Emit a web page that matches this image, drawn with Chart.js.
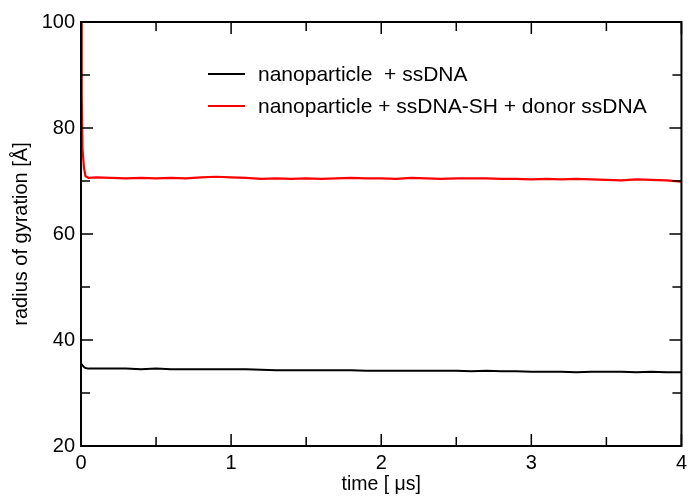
<!DOCTYPE html>
<html>
<head>
<meta charset="utf-8">
<script src="https://cdn.jsdelivr.net/npm/chart.js@4.4.1/dist/chart.umd.min.js"></script>
<style>
  html, body { margin: 0; padding: 0; background: #fff; }
  #wrap { width: 692px; height: 496px; }
</style>
</head>
<body>
<div id="wrap"><canvas id="rg"></canvas></div>
<script>
// time in microseconds
const times = [0, 0.005, 0.01, 0.02, 0.03, 0.05,
  0.1, 0.2, 0.3, 0.4, 0.5, 0.6, 0.7, 0.8, 0.9, 1.0,
  1.1, 1.2, 1.3, 1.4, 1.5, 1.6, 1.7, 1.8, 1.9, 2.0,
  2.1, 2.2, 2.3, 2.4, 2.5, 2.6, 2.7, 2.8, 2.9, 3.0,
  3.1, 3.2, 3.3, 3.4, 3.5, 3.6, 3.7, 3.8, 3.9, 4.0];

// nanoparticle + ssDNA-SH + donor ssDNA
const rgDonor = [100, 86, 76, 72.5, 70.9, 70.6,
  70.7, 70.6, 70.5, 70.6, 70.5, 70.6, 70.5, 70.7, 70.8, 70.7,
  70.6, 70.4, 70.5, 70.4, 70.5, 70.4, 70.5, 70.6, 70.5, 70.5,
  70.4, 70.6, 70.5, 70.4, 70.5, 70.5, 70.5, 70.4, 70.4, 70.3,
  70.4, 70.3, 70.4, 70.3, 70.2, 70.1, 70.3, 70.2, 70.1, 69.9];

// nanoparticle + ssDNA
const rgPlain = [35.5, 35.4, 35.2, 34.9, 34.7, 34.6,
  34.6, 34.6, 34.6, 34.5, 34.6, 34.5, 34.5, 34.5, 34.5, 34.5,
  34.5, 34.4, 34.3, 34.3, 34.3, 34.3, 34.3, 34.3, 34.2, 34.2,
  34.2, 34.2, 34.2, 34.2, 34.2, 34.1, 34.2, 34.1, 34.1, 34.0,
  34.0, 34.0, 33.9, 34.0, 34.0, 34.0, 33.9, 34.0, 33.9, 33.9];

const seriesLabels = ["nanoparticle  + ssDNA", "nanoparticle + ssDNA-SH + donor ssDNA"];
const seriesColors = ["#000000", "#ff0000"];

const xMajor = [0, 1, 2, 3, 4];
const xMinor = [0.5, 1.5, 2.5, 3.5];
const yMajor = [20, 40, 60, 80, 100];
const yMinor = [30, 50, 70, 90];

const FONT = "'Liberation Sans', Arial, sans-serif";

function toPoints(ys) {
  return times.map((t, i) => ({ x: t, y: ys[i] }));
}

// frame, inward ticks on all four sides, and the legend box
const framePlugin = {
  id: 'frame',
  afterDatasetsDraw(chart) {
    const ctx = chart.ctx;
    const a = chart.chartArea;
    const xs = chart.scales.x;
    const ys = chart.scales.y;
    ctx.save();
    ctx.strokeStyle = '#000';
    ctx.lineWidth = 2;
    ctx.strokeRect(a.left, a.top, a.right - a.left, a.bottom - a.top);

    ctx.lineWidth = 1.5;
    ctx.beginPath();
    xMajor.forEach(v => {
      const p = xs.getPixelForValue(v);
      ctx.moveTo(p, a.bottom); ctx.lineTo(p, a.bottom - 12);
      ctx.moveTo(p, a.top); ctx.lineTo(p, a.top + 12);
    });
    xMinor.forEach(v => {
      const p = xs.getPixelForValue(v);
      ctx.moveTo(p, a.bottom); ctx.lineTo(p, a.bottom - 9);
      ctx.moveTo(p, a.top); ctx.lineTo(p, a.top + 9);
    });
    yMajor.forEach(v => {
      const p = ys.getPixelForValue(v);
      ctx.moveTo(a.left, p); ctx.lineTo(a.left + 12, p);
      ctx.moveTo(a.right, p); ctx.lineTo(a.right - 12, p);
    });
    yMinor.forEach(v => {
      const p = ys.getPixelForValue(v);
      ctx.moveTo(a.left, p); ctx.lineTo(a.left + 9, p);
      ctx.moveTo(a.right, p); ctx.lineTo(a.right - 9, p);
    });
    ctx.stroke();

    // legend
    ctx.font = "21px " + FONT;
    ctx.textBaseline = 'middle';
    ctx.fillStyle = '#000';
    const rows = [74, 106];
    seriesLabels.forEach((lab, i) => {
      ctx.strokeStyle = seriesColors[i];
      ctx.lineWidth = 2;
      ctx.beginPath();
      ctx.moveTo(208, rows[i]);
      ctx.lineTo(245, rows[i]);
      ctx.stroke();
      ctx.fillText(lab, 258, rows[i] + 1);
    });
    ctx.restore();
  }
};

new Chart(document.getElementById('rg'), {
  type: 'line',
  plugins: [framePlugin],
  data: {
    datasets: [
      {
        label: seriesLabels[0],
        data: toPoints(rgPlain),
        borderColor: seriesColors[0],
        borderWidth: 2,
        pointRadius: 0,
        tension: 0
      },
      {
        label: seriesLabels[1],
        data: toPoints(rgDonor),
        borderColor: seriesColors[1],
        borderWidth: 2.2,
        pointRadius: 0,
        tension: 0
      }
    ]
  },
  options: {
    responsive: true,
    maintainAspectRatio: false,
    animation: false,
    layout: { padding: { top: 22, right: 6, left: 0, bottom: 0 } },
    plugins: {
      legend: { display: false },
      tooltip: { enabled: false }
    },
    scales: {
      x: {
        type: 'linear',
        min: 0,
        max: 4,
        grid: { display: false, drawTicks: false },
        border: { display: false },
        ticks: {
          stepSize: 1,
          padding: 5,
          color: '#000',
          font: { size: 20, family: FONT },
          maxRotation: 0
        },
        title: {
          display: true,
          text: 'time [ μs]',
          color: '#000',
          font: { size: 19.5, family: FONT },
          padding: { top: 0, bottom: 0 }
        },
        afterFit(scale) { scale.height = 50; }
      },
      y: {
        type: 'linear',
        min: 20,
        max: 100,
        grid: { display: false, drawTicks: false },
        border: { display: false },
        ticks: {
          stepSize: 20,
          padding: 6,
          color: '#000',
          font: { size: 20, family: FONT }
        },
        title: {
          display: true,
          text: 'radius of gyration [Å]',
          color: '#000',
          font: { size: 20, family: FONT },
          padding: { top: 9, bottom: 0 }
        },
        afterFit(scale) { scale.width = 81; }
      }
    }
  }
});
</script>
</body>
</html>
